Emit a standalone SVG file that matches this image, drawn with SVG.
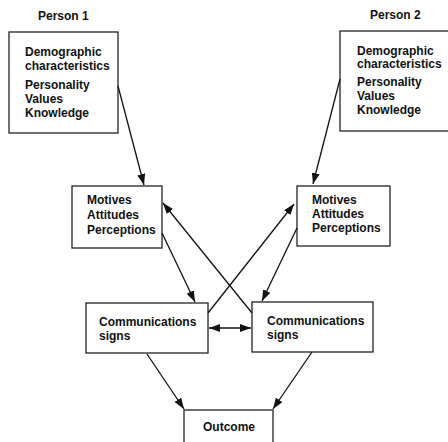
<svg xmlns="http://www.w3.org/2000/svg" width="448" height="442" viewBox="0 0 448 442">
<style>
.box{fill:#fff;stroke:#222;stroke-width:1.3}
.t{font-family:"Liberation Sans",Arial,sans-serif;font-weight:bold;font-size:12px;fill:#111}
.h{font-family:"Liberation Sans",Arial,sans-serif;font-weight:bold;font-size:12px;fill:#111}
.c line{stroke:#111;stroke-width:1.3;fill:none}
</style>
<defs>
<marker id="a" markerUnits="userSpaceOnUse" markerWidth="12" markerHeight="9" refX="11" refY="4" orient="auto-start-reverse">
<path d="M0,0 L11,4 L0,8 z" fill="#111"/>
</marker>
</defs>
<text class="h" x="38" y="20">Person 1</text>
<text class="h" x="370" y="19">Person 2</text>
<g id="p1">
<rect class="box" x="9" y="32" width="109" height="101"/>
<text class="t" x="25" y="56">Demographic</text>
<text class="t" x="25" y="70">characteristics</text>
<text class="t" x="25" y="89">Personality</text>
<text class="t" x="25" y="102.5">Values</text>
<text class="t" x="25" y="117">Knowledge</text>
</g>
<g id="p2">
<rect class="box" x="340" y="31" width="115" height="100"/>
<text class="t" x="357" y="55">Demographic</text>
<text class="t" x="357" y="68">characteristics</text>
<text class="t" x="357" y="86">Personality</text>
<text class="t" x="357" y="99.5">Values</text>
<text class="t" x="357" y="114">Knowledge</text>
</g>
<g id="m1">
<rect class="box" x="72" y="186" width="90" height="62"/>
<text class="t" x="87" y="204">Motives</text>
<text class="t" x="87" y="219">Attitudes</text>
<text class="t" x="87" y="234">Perceptions</text>
</g>
<g id="m2">
<rect class="box" x="297" y="186" width="93" height="60"/>
<text class="t" x="312" y="204">Motives</text>
<text class="t" x="312" y="218">Attitudes</text>
<text class="t" x="312" y="232">Perceptions</text>
</g>
<g id="c1">
<rect class="box" x="86" y="303" width="122" height="50"/>
<text class="t" x="99" y="326">Communications</text>
<text class="t" x="99" y="340">signs</text>
</g>
<g id="c2">
<rect class="box" x="252" y="302" width="121" height="50"/>
<text class="t" x="267" y="325">Communications</text>
<text class="t" x="267" y="338.5">signs</text>
</g>
<g id="o">
<rect class="box" x="184" y="410" width="89" height="45"/>
<text class="t" x="203" y="431">Outcome</text>
</g>
<g class="c" id="connectors">
<line x1="118" y1="86" x2="144" y2="185" marker-end="url(#a)"/>
<line x1="340" y1="79" x2="313" y2="184" marker-end="url(#a)"/>
<line x1="162" y1="233" x2="195" y2="302" marker-end="url(#a)"/>
<line x1="297" y1="228" x2="262" y2="301" marker-end="url(#a)"/>
<line x1="208" y1="313" x2="294" y2="204" marker-end="url(#a)"/>
<line x1="252" y1="313" x2="163" y2="203" marker-end="url(#a)"/>
<line x1="209" y1="328" x2="251" y2="328" marker-start="url(#a)" marker-end="url(#a)"/>
<line x1="147" y1="354" x2="184" y2="409" marker-end="url(#a)"/>
<line x1="312" y1="352" x2="273" y2="409" marker-end="url(#a)"/>
</g>
</svg>
